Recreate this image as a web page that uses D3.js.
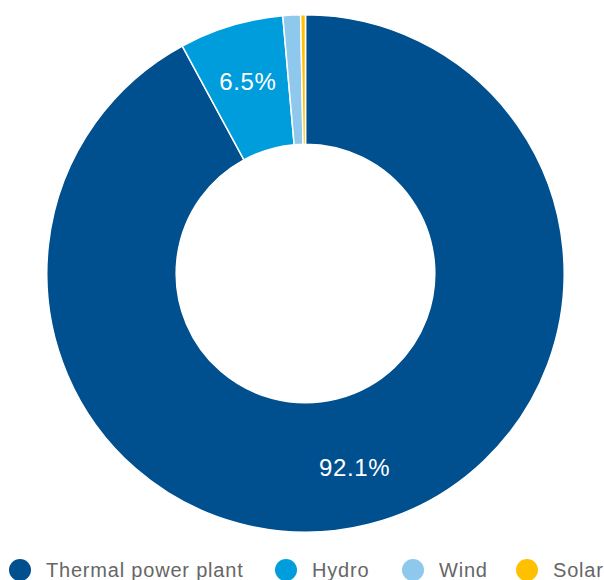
<!DOCTYPE html>
<html>
<head>
<meta charset="utf-8">
<script src="https://cdn.jsdelivr.net/npm/d3@7"></script>
<style>
  html, body { margin: 0; padding: 0; background: #fff; }
  svg { display: block; }
  text { font-family: "Liberation Sans", Arial, sans-serif; }
</style>
</head>
<body>
<svg id="chart" width="604" height="580"></svg>
<script>
// Electricity generation mix (share of total, %)
const categories = ["Thermal power plant", "Hydro", "Wind", "Solar"];
const shares = [92.1, 6.5, 1.1, 0.3];
const colors = ["#00508f", "#009ddc", "#8ec8ec", "#ffc000"];
// Only the larger slices carry a value label
const labelled = [true, true, false, false];

const width = 604, height = 580;
const cx = 305.5, cy = 273.5;
const outerR = 258.7, innerR = 129.3;
const labelR = 200;

const svg = d3.select("#chart");
const data = categories.map((c, i) => ({ name: c, value: shares[i], color: colors[i], label: labelled[i] }));

const pie = d3.pie().value(d => d.value).sort(null);
const arc = d3.arc().innerRadius(innerR).outerRadius(outerR);
const labelArc = d3.arc().innerRadius(labelR).outerRadius(labelR);

const g = svg.append("g").attr("transform", `translate(${cx},${cy})`);
const arcs = pie(data);

g.selectAll("path.slice")
  .data(arcs)
  .join("path")
  .attr("class", "slice")
  .attr("d", arc)
  .attr("fill", d => d.data.color)
  .attr("stroke", "#fff")
  .attr("stroke-width", 1.5);

g.selectAll("text.value")
  .data(arcs.filter(d => d.data.label))
  .join("text")
  .attr("class", "value")
  .attr("transform", d => { const [x, y] = labelArc.centroid(d); return `translate(${x},${y})`; })
  .attr("text-anchor", "middle")
  .attr("dy", "0.35em")
  .attr("fill", "#fff")
  .attr("font-size", 24)
  .attr("letter-spacing", 0.6)
  .text(d => d3.format(".1f")(d.data.value) + "%");

// Legend along the bottom
const legendX = [20, 286, 413, 527];
const legend = svg.append("g").attr("transform", "translate(0,570)");
const items = legend.selectAll("g.item")
  .data(data)
  .join("g")
  .attr("class", "item")
  .attr("transform", (d, i) => `translate(${legendX[i]},0)`);
items.append("circle").attr("r", 11).attr("fill", d => d.color);
items.append("text")
  .attr("x", 26)
  .attr("dy", "0.35em")
  .attr("fill", "#666")
  .attr("font-size", 20)
  .attr("letter-spacing", 0.8)
  .text(d => d.name);
</script>
</body>
</html>
